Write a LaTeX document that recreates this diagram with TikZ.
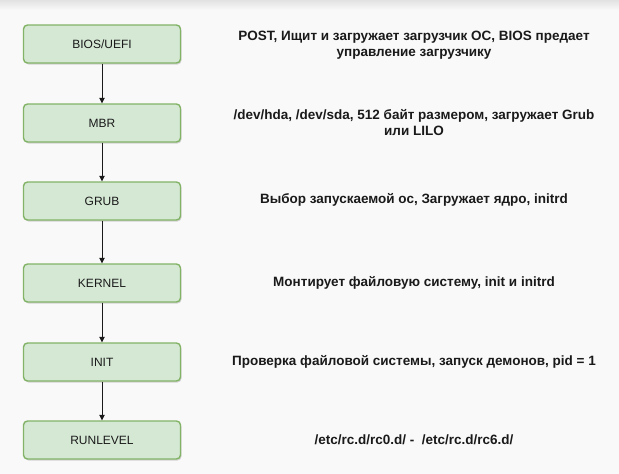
\documentclass[tikz,border=0pt]{standalone}
\usepackage{fontspec}
\setmainfont{Liberation Sans}
\usetikzlibrary{arrows.meta,shadows}
\definecolor{bg}{HTML}{F9F9F9}
\definecolor{topgrey}{HTML}{E2E2E2}
\definecolor{boxfill}{HTML}{D5E8D4}
\definecolor{boxline}{HTML}{82B366}
\definecolor{txt}{HTML}{1A1A1A}
\tikzset{
  stage/.style={draw=boxline, fill=boxfill, line width=1.4pt, rounded corners=4pt,
    minimum width=157pt, minimum height=38pt, inner sep=0pt,
    font=\fontsize{12}{14}\selectfont, text=txt,
    drop shadow={shadow xshift=1pt, shadow yshift=-1.5pt, fill=black, opacity=0.15}},
  note/.style={font=\bfseries\fontsize{13.5}{16}\selectfont, text=txt, align=center, inner sep=0pt},
  flow/.style={-{Triangle[length=5.5pt,width=5.5pt]}, line width=0.8pt, draw=txt}
}
\begin{document}
\begin{tikzpicture}[x=1pt,y=-1pt]
\useasboundingbox (0,0) rectangle (619,474);
\fill[bg] (0,0) rectangle (619,474);
\shade[top color=topgrey, bottom color=bg] (0,0) rectangle (619,10);
\node[stage] (bios) at (102,44) {BIOS/UEFI};
\node[stage] (mbr) at (102,123) {MBR};
\node[stage] (grub) at (102,201) {GRUB};
\node[stage] (kernel) at (102,283) {KERNEL};
\node[stage] (init) at (102,362) {INIT};
\node[stage] (run) at (102,440) {RUNLEVEL};
\draw[flow] (bios) -- (mbr);
\draw[flow] (mbr) -- (grub);
\draw[flow] (grub) -- (kernel);
\draw[flow] (kernel) -- (init);
\draw[flow] (init) -- (run);
\node[note] (n1) at (414,45) {POST, Ищит и загружает загрузчик ОС, BIOS предает\\управление загрузчику};
\node[note] (n2) at (414,123) {/dev/hda, /dev/sda, 512 байт размером, загружает Grub\\или LILO};
\node[note] (n3) at (414,200) {Выбор запускаемой ос, Загружает ядро, initrd};
\node[note] (n4) at (414,283) {Монтирует файловую систему, init и initrd};
\node[note] (n5) at (414,362) {Проверка файловой системы, запуск демонов, pid = 1};
\node[note] (n6) at (414,440) {/etc/rc.d/rc0.d/ -\ \ /etc/rc.d/rc6.d/};
\end{tikzpicture}
\end{document}
